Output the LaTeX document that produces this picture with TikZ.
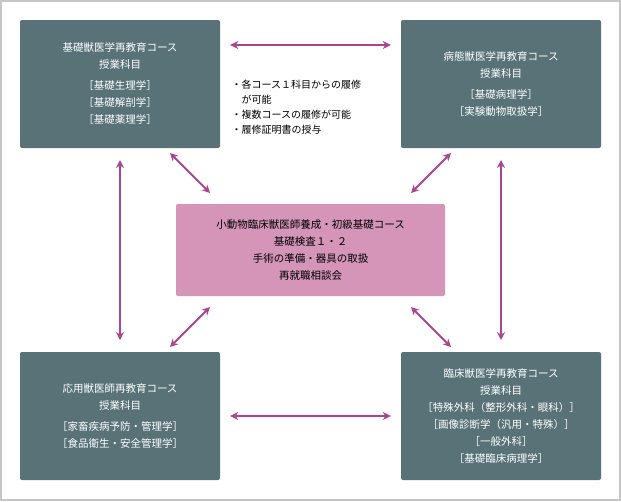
\documentclass[tikz,border=0pt]{standalone}
\usepackage{fontspec}
\setmainfont{Noto Sans CJK JP}
\usetikzlibrary{arrows.meta}
\definecolor{boxc}{HTML}{587277}
\definecolor{pinkc}{HTML}{D495B9}
\definecolor{arrc}{HTML}{A8478F}
\begin{document}
\begin{tikzpicture}[x=1pt,y=-1pt,
  box/.style={fill=boxc,rounded corners=2pt,minimum width=200pt,minimum height=128pt,text=white,align=center,font=\fontsize{10.5}{17}\selectfont},
  cbox/.style={fill=pinkc,rounded corners=2pt,minimum width=269pt,minimum height=92pt,text=black,align=center,font=\fontsize{10.5}{17}\selectfont},
  arr/.style={draw=arrc,line width=2pt,{Stealth[length=8pt,width=8pt]}-{Stealth[length=8pt,width=8pt]}}]
\draw[draw=gray!45,line width=2pt,fill=white] (1,1) rectangle (620,500);
\node[box] (tl) at (120,84) {基礎獣医学再教育コース\\授業科目\\[4pt]［基礎生理学］\\［基礎解剖学］\\［基礎薬理学］};
\node[box] (tr) at (501,84) {病態獣医学再教育コース\\授業科目\\[4pt]［基礎病理学］\\［実験動物取扱学］};
\node[box] (bl) at (120,416) {応用獣医師再教育コース\\授業科目\\[4pt]［家畜疾病予防・管理学］\\［食品衛生・安全管理学］};
\node[box] (br) at (501,416) {臨床獣医学再教育コース\\授業科目\\［特殊外科（整形外科・眼科）］\\［画像診断学（汎用・特殊）］\\［一般外科］\\［基礎臨床病理学］};
\node[cbox] (c) at (310.5,250) {小動物臨床獣医師養成・初級基礎コース\\基礎検査１・２\\手術の準備・器具の取扱\\再就職相談会};
\node[align=left,font=\fontsize{10}{15}\selectfont,anchor=north west] (note) at (228,76) {・各コース１科目からの履修\\\hspace{1em}が可能\\・複数コースの履修が可能\\・履修証明書の授与};
\draw[arr] ([xshift=10pt]tl.east|-0,45) coordinate (a1) -- ([xshift=-10pt]tr.west|-0,45) coordinate (a2);
\draw[arr] ([xshift=10pt]bl.east|-0,416) -- ([xshift=-10pt]br.west|-0,416);
\draw[arr] (120,160) -- (120,340);
\draw[arr] (501,160) -- (501,340);
\draw[arr] (170,153) -- (210,193);
\draw[arr] (451,153) -- (411,193);
\draw[arr] (170,347) -- (210,307);
\draw[arr] (451,347) -- (411,307);
\end{tikzpicture}
\end{document}
